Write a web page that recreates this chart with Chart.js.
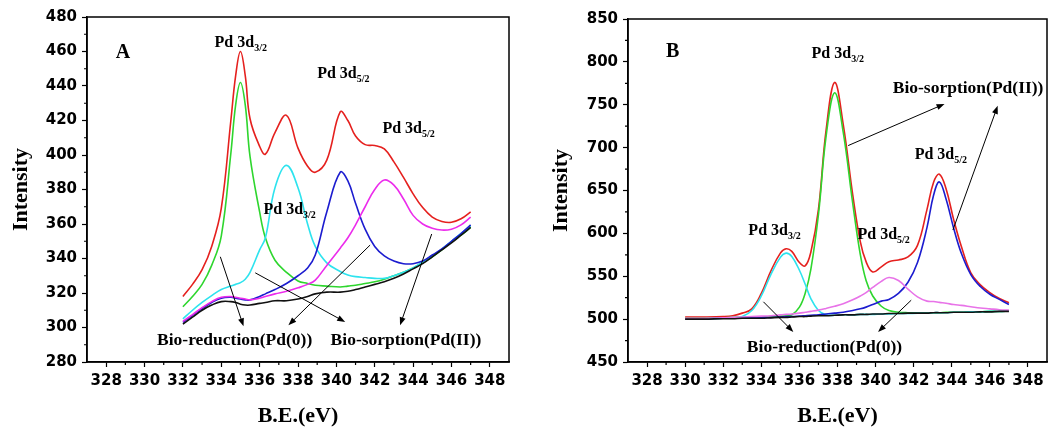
<!DOCTYPE html>
<html>
<head>
<meta charset="utf-8">
<title>Pd 3d XPS spectra</title>
<script src="https://cdn.jsdelivr.net/npm/chart.js@4.4.1/dist/chart.umd.min.js"></script>
<style>
  html, body { margin: 0; padding: 0; background: #fff; }
  #wrap { position: relative; width: 1057px; height: 430px; }
  canvas { position: absolute; top: 0; }
  #chartA { left: 0; }
  #chartB { left: 527px; }
</style>
</head>
<body>
<div id="wrap">
  <canvas id="chartA" width="527" height="430"></canvas>
  <canvas id="chartB" width="530" height="430"></canvas>
</div>
<script>
// Panel A - binding energy (eV) and fitted curves
const energyA = [332, 332.5, 333, 333.5, 334, 334.5, 334.75, 335, 335.25, 335.5, 336, 336.3, 336.8, 337.4, 338, 338.5,
    338.9, 339.5, 340.2, 340.6, 341, 341.5, 342, 342.5, 343, 343.5, 344, 344.5, 345, 345.5, 346, 346.5, 347];
const redA = [318, 325, 333.5, 347, 369, 420, 446, 460, 446, 421, 405, 400.5, 413, 423, 404, 393.5,
    390, 397, 425, 420, 411, 406, 405.5, 403.5, 396, 387, 377.5, 369.5, 364, 361.5, 361, 363, 367];
const greenA = [312, 318, 325, 336, 353, 401, 429, 442, 429, 399, 367, 352, 339, 332, 327, 325.5,
    324.5, 324, 323.5, 324, 324.5, 325.5, 326.5, 328, 330, 332, 334.5, 337.5, 341, 345, 349.5, 353.5, 358];
const cyanA = [305, 310, 314.5, 318.5, 322, 324, 325, 326, 328, 332, 345, 352, 381, 394, 381, 360,
    347, 337.5, 332.5, 330.5, 329.5, 329, 328.5, 328.5, 330, 332, 334.5, 338, 341.5, 345.5, 350, 354.5, 359];
const blueA = [303, 307, 311, 314.5, 317, 317.5, 317, 316.5, 316, 316, 318, 319.5, 322, 325.5, 330, 334.5,
    342, 367, 390, 385, 372, 357, 347, 341.5, 338.5, 337, 337, 338.5, 342, 345.5, 350, 354.5, 359.5];
const magentaA = [303.5, 307.5, 311.5, 315, 317.5, 318, 317.5, 317, 316.5, 316, 317, 318, 319.5, 321, 323, 325,
    327.5, 336, 346, 352, 359.5, 370, 380, 385.5, 382.5, 374.5, 365, 360, 357.5, 356.5, 357, 359.5, 364];
const blackA = [302, 306, 310, 313, 315, 315, 314.5, 313.5, 313, 313, 314, 314.5, 315.5, 315.5, 316.5, 318,
    319.5, 320.5, 320.5, 321, 322, 323.5, 325, 326.5, 328.5, 331, 334, 337, 341, 345, 349, 353.5, 358];

// Panel B
const energyB = [330, 331, 332, 332.5, 333, 333.5, 334, 334.5, 335, 335.3, 335.6, 336, 336.3, 336.6, 337, 337.4,
    337.85, 338.3, 338.8, 339.2, 339.5, 339.85, 340.3, 340.7, 341.2, 341.7, 342.2, 342.7, 343.05, 343.35, 343.7,
    344.1, 344.5, 345, 345.5, 346, 346.5, 347];
const redB = [502.5, 502.5, 503, 504, 507, 512, 530, 556, 577, 582, 579, 566, 562, 578, 628, 720,
    776, 727, 645, 590, 567, 555, 561, 567, 569, 572.5, 586, 628, 660, 669, 652,
    616, 585, 554, 540, 531, 524, 519];
const greenB = [501, 501, 501.5, 502, 502, 502.5, 502.5, 503, 503.5, 504, 505, 514, 530, 558, 622, 713,
    764, 718, 635, 575, 545, 527, 515, 510, 508, 507.5, 507.5, 507.5, 507.5, 507.5, 508,
    508, 508, 508.5, 508.5, 509, 509, 509.5];
const cyanB = [500.5, 500.5, 501, 501.5, 503, 510, 527, 552, 572, 577, 573, 557, 541, 524, 510, 505,
    504.5, 505, 505, 505.5, 505.5, 505.5, 506, 506, 506.5, 506.5, 507, 507, 507.5, 507.5, 507.5,
    508, 508, 508.5, 508.5, 509, 509, 509.5];
const blueB = [500.5, 500.5, 501, 501, 501.5, 501.5, 502, 502, 502.5, 503, 503, 503.5, 504, 504.5, 505, 506,
    507, 508, 510, 512, 514, 517, 521, 523, 530, 543, 566, 607, 645, 660, 640,
    606, 577, 552, 538, 529, 523, 517];
const magentaB = [501, 501, 501.5, 502, 502.5, 503, 503.5, 504, 505, 505.5, 506, 507, 508, 509, 510.5, 512.5,
    515, 518, 522.5, 527, 531, 537, 544, 548.5, 545, 535, 526, 521, 520.5, 519.5, 518.5,
    517, 516, 514.5, 513, 512, 511, 510.5];
const blackB = [500, 500, 500.5, 500.5, 501, 501, 501, 501.5, 502, 502, 502.5, 503, 503, 503.5, 504, 504,
    504.5, 505, 505, 505.5, 505.5, 506, 506, 506.5, 506.5, 507, 507, 507, 507.5, 507.5, 507.5,
    508, 508, 508, 508.5, 508.5, 509, 509];

// Tick values
const xTicks = [328, 330, 332, 334, 336, 338, 340, 342, 344, 346, 348];
const xMinor = [329, 331, 333, 335, 337, 339, 341, 343, 345, 347];
const yTicksA = [280, 300, 320, 340, 360, 380, 400, 420, 440, 460, 480];
const yMinorA = [290, 310, 330, 350, 370, 390, 410, 430, 450, 470];
const yTicksB = [450, 500, 550, 600, 650, 700, 750, 800, 850];
const yMinorB = [475, 525, 575, 625, 675, 725, 775, 825];

// Text and arrows, in data coordinates
const labelsA = [
    { text: 'A', x: 328.5, y: 456, size: 20 },
    { text: 'Pd 3d', sub: '3/2', x: 333.65, y: 462.5 },
    { text: 'Pd 3d', sub: '5/2', x: 339.0, y: 444.5 },
    { text: 'Pd 3d', sub: '5/2', x: 342.4, y: 413 },
    { text: 'Pd 3d', sub: '3/2', x: 336.2, y: 366 },
    { text: 'Bio-reduction(Pd(0))', x: 330.65, y: 290, size: 17.5 },
    { text: 'Bio-sorption(Pd(II))', x: 339.7, y: 290, size: 17.5 }
];
const arrowsA = [
    [333.95, 341, 335.16, 300.7],
    [335.77, 331.7, 340.46, 303.2],
    [341.76, 347.8, 337.5, 301.3],
    [344.97, 354.2, 343.32, 301.3]
];
const labelsB = [
    { text: 'B', x: 329.0, y: 806, size: 20 },
    { text: 'Pd 3d', sub: '3/2', x: 336.64, y: 805 },
    { text: 'Bio-sorption(Pd(II))', x: 340.9, y: 764, size: 17.5 },
    { text: 'Pd 3d', sub: '5/2', x: 342.05, y: 687 },
    { text: 'Pd 3d', sub: '3/2', x: 333.32, y: 598 },
    { text: 'Pd 3d', sub: '5/2', x: 339.05, y: 593 },
    { text: 'Bio-reduction(Pd(0))', x: 333.24, y: 462, size: 17.5 }
];
const arrowsB = [
    [338.56, 702.4, 343.62, 751],
    [344.06, 603.9, 346.41, 748.7],
    [334.11, 520.2, 335.68, 485.1],
    [341.87, 522.1, 340.13, 485.1]
];

function pairs(xs, ys) {
    return xs.map((x, i) => ({ x: x, y: ys[i] }));
}

function curve(xs, ys, color) {
    return {
        data: pairs(xs, ys),
        borderColor: color,
        borderWidth: 1.6,
        pointRadius: 0,
        fill: false,
        tension: 0.4
    };
}

function drawArrow(ctx, x1, y1, x2, y2) {
    const ang = Math.atan2(y2 - y1, x2 - x1);
    const head = 8, half = 3;
    ctx.beginPath();
    ctx.moveTo(x1, y1);
    ctx.lineTo(x2 - head * 0.7 * Math.cos(ang), y2 - head * 0.7 * Math.sin(ang));
    ctx.stroke();
    ctx.beginPath();
    ctx.moveTo(x2, y2);
    ctx.lineTo(x2 - head * Math.cos(ang) + half * Math.sin(ang), y2 - head * Math.sin(ang) - half * Math.cos(ang));
    ctx.lineTo(x2 - head * Math.cos(ang) - half * Math.sin(ang), y2 - head * Math.sin(ang) + half * Math.cos(ang));
    ctx.closePath();
    ctx.fill();
}

// Frame, minor ticks, labels and arrows
const decorations = {
    id: 'decorations',
    afterDraw(chart, args, opts) {
        const ctx = chart.ctx;
        const xs = chart.scales.x, ys = chart.scales.y;
        const area = chart.chartArea;
        ctx.save();
        ctx.strokeStyle = '#000';
        ctx.fillStyle = '#000';
        ctx.lineWidth = 1.5;
        ctx.strokeRect(area.left, area.top, area.right - area.left, area.bottom - area.top);

        ctx.lineWidth = 1.2;
        ctx.beginPath();
        xMinor.forEach(v => {
            const px = xs.getPixelForValue(v);
            ctx.moveTo(px, area.bottom);
            ctx.lineTo(px, area.bottom + 3);
        });
        opts.minorY.forEach(v => {
            const py = ys.getPixelForValue(v);
            ctx.moveTo(area.left, py);
            ctx.lineTo(area.left - 3, py);
        });
        ctx.stroke();

        ctx.textBaseline = 'alphabetic';
        ctx.textAlign = 'left';
        opts.labels.forEach(l => {
            const px = xs.getPixelForValue(l.x);
            const py = ys.getPixelForValue(l.y);
            ctx.font = 'bold ' + (l.size || 16) + 'px "Liberation Serif", "Times New Roman", serif';
            ctx.fillText(l.text, px, py);
            if (l.sub) {
                const w = ctx.measureText(l.text).width;
                ctx.font = 'bold 10px "Liberation Serif", "Times New Roman", serif';
                ctx.fillText(l.sub, px + w, py + 4);
            }
        });

        ctx.lineWidth = 1;
        opts.arrows.forEach(a => {
            drawArrow(ctx, xs.getPixelForValue(a[0]), ys.getPixelForValue(a[1]),
                xs.getPixelForValue(a[2]), ys.getPixelForValue(a[3]));
        });
        ctx.restore();
    }
};

function makeChart(id, energy, series, yMin, yMax, yTicks, yMinor, labels, arrows, yWidth, padRight, padTop, titlePad) {
    const tickFont = { family: 'DejaVu Sans', weight: 'bold', size: 15 };
    const titleFont = { family: 'Liberation Serif', weight: 'bold', size: 22 };
    return new Chart(document.getElementById(id), {
        type: 'line',
        data: {
            datasets: [
                curve(energy, series.black, '#111111'),
                curve(energy, series.magenta, series.magentaColor),
                curve(energy, series.blue, '#1c1ccf'),
                curve(energy, series.cyan, '#2de3ee'),
                curve(energy, series.green, '#2ed62e'),
                curve(energy, series.red, '#e5201e')
            ]
        },
        options: {
            responsive: false,
            animation: false,
            layout: { padding: { left: 0, top: padTop, right: padRight, bottom: 0 } },
            plugins: {
                legend: { display: false },
                tooltip: { enabled: false },
                decorations: { labels: labels, arrows: arrows, minorY: yMinor }
            },
            scales: {
                x: {
                    type: 'linear',
                    min: 327,
                    max: 349,
                    afterBuildTicks: axis => { axis.ticks = xTicks.map(v => ({ value: v })); },
                    afterFit: axis => { axis.height = 68; },
                    grid: { drawOnChartArea: false, drawTicks: true, tickLength: 5, tickColor: '#000', tickWidth: 1.2 },
                    border: { display: true, color: '#000', width: 1.5 },
                    ticks: { color: '#000', font: tickFont, padding: 5, autoSkip: false, maxRotation: 0 },
                    title: { display: true, text: 'B.E.(eV)', color: '#000', font: titleFont, padding: { top: 0, bottom: 0 } }
                },
                y: {
                    type: 'linear',
                    min: yMin,
                    max: yMax,
                    afterBuildTicks: axis => { axis.ticks = yTicks.map(v => ({ value: v })); },
                    afterFit: axis => { axis.width = yWidth; },
                    grid: { drawOnChartArea: false, drawTicks: true, tickLength: 5, tickColor: '#000', tickWidth: 1.2 },
                    border: { display: true, color: '#000', width: 1.5 },
                    ticks: { color: '#000', font: tickFont, padding: 5, autoSkip: false },
                    title: { display: true, text: 'Intensity', color: '#000', font: titleFont, padding: { top: titlePad, bottom: 0 } }
                }
            }
        },
        plugins: [decorations]
    });
}

makeChart('chartA', energyA,
    { red: redA, green: greenA, cyan: cyanA, blue: blueA, magenta: magentaA, black: blackA, magentaColor: '#ec2cec' },
    280, 480, yTicksA, yMinorA, labelsA, arrowsA, 87, 18, 17, 8);

makeChart('chartB', energyB,
    { red: redB, green: greenB, cyan: cyanB, blue: blueB, magenta: magentaB, black: blackB, magentaColor: '#e873e8' },
    450, 850, yTicksB, yMinorB, labelsB, arrowsB, 101, 10, 19, 21);
</script>
</body>
</html>
